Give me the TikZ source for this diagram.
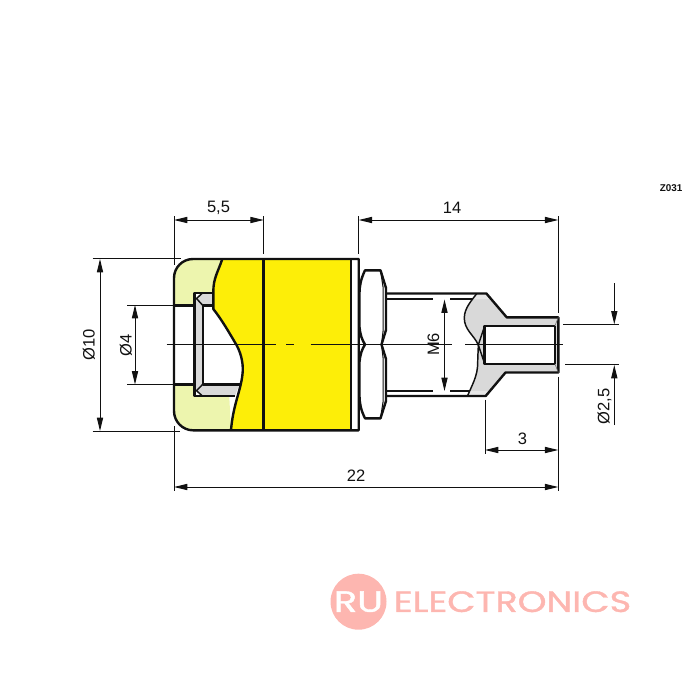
\documentclass[tikz,border=0pt]{standalone}
\usepackage{fontspec}
\setmainfont{Liberation Sans}
\newfontfamily\logofont[FakeBold=1.2]{Poppins}
\usetikzlibrary{arrows.meta}
\definecolor{bodyyellow}{HTML}{FDEE08}
\definecolor{capyellow}{HTML}{EDF5AE}
\definecolor{partgrey}{HTML}{D9D9D9}
\definecolor{lightgrey}{HTML}{E6E6E6}
\definecolor{logopink}{HTML}{FDB6B0}
\definecolor{ink}{HTML}{111111}
\tikzset{
  outline/.style={draw=ink,line width=1.8pt,line join=round},
  thinout/.style={draw=ink,line width=1.1pt,line join=round},
  dimline/.style={draw=ink,line width=0.75pt,{Triangle[length=10pt,width=4.6pt]}-{Triangle[length=10pt,width=4.6pt]}},
  arrowin/.style={draw=ink,line width=0.75pt,-{Triangle[length=10pt,width=4.6pt]}},
  extline/.style={draw=ink,line width=0.75pt},
  centerline/.style={draw=ink,line width=0.85pt},
  dimtext/.style={font=\fontsize{12.4}{14}\selectfont,text=ink,inner sep=0pt},
}
\begin{document}
\begin{tikzpicture}[x=0.75pt,y=-0.75pt]
\useasboundingbox (0,0) rectangle (700,700);
% cap
\fill[capyellow] (222.3,259) -- (193,259) .. controls (182.5,259) and (174,267.5) .. (174,278) -- (174,411) .. controls (174,421.5) and (182.5,430.3) .. (193,430.3) -- (231,430.3) -- cycle;
% yellow body
\fill[bodyyellow] (222.3,259) .. controls (218,272) and (213.3,278) .. (213.3,292) -- (213.3,309) .. controls (222,320) and (230,334) .. (236.5,345) .. controls (242,355) and (243.5,366) .. (242.5,374) .. controls (241,390) and (233,405) .. (231,430.3) -- (351,430.3) -- (351,259) -- cycle;
% white hole
\fill[white] (174,305.3) rectangle (194.3,384.3);
\fill[white] (202.7,305.3) -- (213.3,305.3) -- (213.3,309) .. controls (222,320) and (230,334) .. (236.5,345) .. controls (242,355) and (243.5,366) .. (242.5,374) -- (240,384.3) -- (202.7,384.3) -- cycle;
% sleeve
\fill[partgrey] (194.3,292.7) -- (213.3,292.7) -- (213.3,305.3) -- (202.7,305.3) -- (202.7,384.3) -- (239.3,384.3) -- (235,396) -- (194.3,396) -- cycle;
\fill[white] (195,293.5) -- (202,293.5) -- (196,298.5) -- (195,298.5) -- cycle;
\fill[white] (195,395.2) -- (201,395.2) -- (196,390.7) -- (195,390.7) -- cycle;
\draw[thinout] (202.5,293) -- (196.5,298.5) -- (202.7,305.3);
\draw[thinout] (202.7,384.3) -- (196.5,390.7) -- (202.5,396);
\draw[outline] (213.3,292.7) -- (194.3,292.7) -- (194.3,396) -- (235,396);
\draw[outline] (213.3,305.3) -- (202.7,305.3) -- (202.7,384.3) -- (240,384.3);
\draw[outline] (174,305.3) -- (194.3,305.3);
\draw[outline] (174,384.3) -- (194.3,384.3);
% body outline and section curve
\draw[outline] (358.7,259) -- (193,259) .. controls (182.5,259) and (174,267.5) .. (174,278) -- (174,411) .. controls (174,421.5) and (182.5,430.3) .. (193,430.3) -- (358.7,430.3) -- cycle;
\draw[outline] (222.3,259) .. controls (218,272) and (213.3,278) .. (213.3,292) -- (213.3,309) .. controls (222,320) and (230,334) .. (236.5,345) .. controls (242,355) and (243.5,366) .. (242.5,374) .. controls (241,390) and (233,405) .. (231,430.3);
\draw[outline,line width=2pt] (263.7,259) -- (263.7,430.3);
\draw[outline,line width=2pt] (350.9,259) -- (350.9,430.3);
% nut
\draw[outline] (365,270.3) -- (380.5,270.3) -- (386,288) -- (386,330) -- (381.5,344.5) -- (386,359) -- (386,401) -- (380.5,418.3) -- (365,418.3) .. controls (361,410) and (359.5,404) .. (359.5,395) -- (359.5,362) .. controls (360,355) and (362,349) .. (365,344.5) .. controls (362,340) and (360,334) .. (359.5,327) -- (359.5,294) .. controls (359.5,285) and (361,279) .. (365,270.3) -- cycle;
\draw[thinout,line width=0.8pt] (380.5,270.3) -- (383.2,288) -- (383.2,330) -- (381.5,344.5) -- (383.2,359) -- (383.2,401) -- (380.5,418.3);
% threaded part: grey tip
\fill[partgrey] (476.7,293.7) -- (486.4,293.7) -- (506.7,317.3) -- (558.3,317.3) -- (558.3,372.5) -- (505.5,372.5) -- (485.7,396) -- (467.5,396) .. controls (472,385) and (477.7,376) .. (477.7,363) .. controls (477.7,356) and (478.3,350) .. (478.3,345) .. controls (474,335) and (464.3,330) .. (464.3,318) .. controls (464.3,308) and (472,300) .. (476.7,293.7) -- cycle;
\fill[lightgrey] (476.7,293.7) -- (486.4,293.7) -- (490.5,299) -- (472.5,299) -- cycle;
\fill[lightgrey] (467.5,396) -- (485.7,396) -- (490,391) -- (470,391) -- cycle;
\fill[white] (484.3,325.7) rectangle (555,364);
% thread lines
\draw[outline] (386,293.5) -- (486.4,293.5) -- (506.7,317.3) -- (558.3,317.3) -- (558.3,372.5) -- (505.5,372.5) -- (485.7,396) -- (386,396);
\draw[thinout] (386,299) -- (433,299);
\draw[thinout] (450,299) -- (472,299);
\draw[thinout] (386,391) -- (433,391);
\draw[thinout] (450,391) -- (470,391);
\draw[thinout] (476.7,293.7) .. controls (472,300) and (464.3,308) .. (464.3,318) .. controls (464.3,330) and (474,335) .. (478.3,345) .. controls (478.3,350) and (477.7,356) .. (477.7,363) .. controls (477.7,376) and (472,385) .. (467.5,396);
% blind hole
\draw[outline] (555,325.7) -- (484.3,325.7) -- (484.3,364) -- (555,364);
\draw[thinout] (555,325.7) -- (555,364);
\draw[draw=ink!60,line width=0.5pt] (555,325.7) -- (558.3,317.3);
\draw[draw=ink!60,line width=0.5pt] (555,364) -- (558.3,372.5);
\draw[thinout] (484.3,327) -- (478.3,345) -- (484.3,362.5);
% centre line
\draw[centerline] (166.7,344.7) -- (276,344.7);
\draw[centerline] (286,344.7) -- (294,344.7);
\draw[centerline] (310.7,344.7) -- (451.7,344.7);
\draw[centerline] (465,344.7) -- (563.3,344.7);
% extension lines
\draw[extline] (174,216) -- (174,265);
\draw[extline] (263.7,216) -- (263.7,254);
\draw[extline] (358.7,216) -- (358.7,254);
\draw[extline] (558.3,216) -- (558.3,313);
\draw[extline] (92.7,258.5) -- (181,258.5);
\draw[extline] (92.7,431) -- (180,431);
\draw[extline] (174,426) -- (174,491);
\draw[extline] (127,305) -- (174,305);
\draw[extline] (127,384.5) -- (174,384.5);
\draw[extline] (563.3,324.7) -- (618.5,324.7);
\draw[extline] (565,364.7) -- (618.5,364.7);
\draw[extline] (485,399.5) -- (485,453.5);
\draw[extline] (558.3,376.7) -- (558.3,491);
% named dimension anchors
\coordinate (a55l) at (174,220);\coordinate (a55r) at (263.7,220);
\coordinate (a14l) at (358.7,220);\coordinate (a14r) at (558.3,220);
\coordinate (d10t) at (100,259);\coordinate (d10b) at (100,431);
\coordinate (d4t) at (135,305);\coordinate (d4b) at (135,384.5);
\coordinate (m6t) at (444.5,299.5);\coordinate (m6b) at (444.5,391);
\coordinate (d25a) at (614.3,283.3);\coordinate (d25at) at (614.3,324.4);
\coordinate (d25b) at (614.3,425);\coordinate (d25bt) at (614.3,365);
\coordinate (a3l) at (485,450);\coordinate (a3r) at (558.3,450);
\coordinate (a22l) at (174,487);\coordinate (a22r) at (558.3,487);
\draw[dimline] (a55l) -- (a55r);
\draw[dimline] (a14l) -- (a14r);
\draw[dimline] (d10t) -- (d10b);
\draw[dimline] (d4t) -- (d4b);
\draw[dimline] (m6t) -- (m6b);
\draw[arrowin] (d25a) -- (d25at);
\draw[arrowin] (d25b) -- (d25bt);
\draw[dimline] (a3l) -- (a3r);
\draw[dimline] (a22l) -- (a22r);
% labels
\node[dimtext] (t55) at (218.5,207.5) {5,5};
\node[dimtext] (t14) at (452,207.5) {14};
\node[dimtext,rotate=90] (t10) at (89,345) {Ø10};
\node[dimtext,rotate=90] (t4) at (126,345) {Ø4};
\node[dimtext,rotate=90] (tm6) at (433.5,344.5) {M6};
\node[dimtext,rotate=90] (t25) at (604.5,406.5) {Ø2,5};
\node[dimtext] (t3) at (522.5,438.5) {3};
\node[dimtext] (t22) at (356,476) {22};
\node[font=\fontsize{7.4}{9}\selectfont\bfseries,text=ink,inner sep=0pt] (zcode) at (671,188) {Z031};
% logo
\fill[logopink] (358.5,601.7) circle[radius=28];
\node[font=\logofont\fontsize{22}{24}\selectfont,text=white,inner sep=0pt,xscale=1.3] (logoru) at (358.5,601.7) {RU};
\node[font=\logofont\fontsize{22}{24}\selectfont,text=logopink,inner sep=0pt,anchor=west,xscale=1.25] (logotext) at (393.5,601.7) {ELECTRONICS};
\end{tikzpicture}
\end{document}
